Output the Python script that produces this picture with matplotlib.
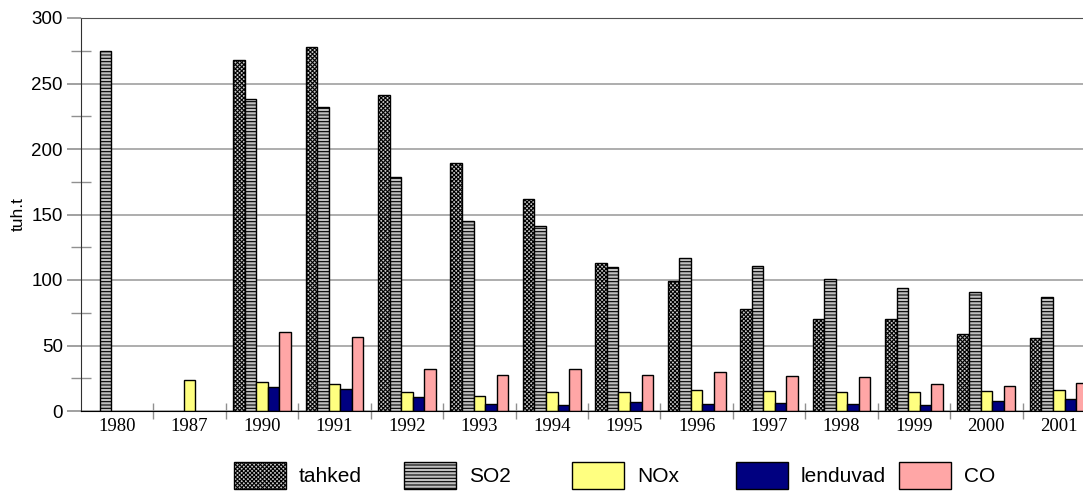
import numpy as np
import matplotlib
matplotlib.use("Agg")
import matplotlib.pyplot as plt
from matplotlib.ticker import FixedLocator, MultipleLocator

years = ["1980", "1987", "1990", "1991", "1992", "1993", "1994", "1995",
         "1996", "1997", "1998", "1999", "2000", "2001"]
nan = np.nan
tahked   = [nan, nan, 268, 278, 241, 189, 162, 113, 99, 78, 70, 70, 59, 56]
so2      = [275, nan, 238, 232, 179, 145, 141, 110, 117, 111, 101, 94, 91, 87]
nox      = [nan, 24, 22, 20.5, 14.7, 11.7, 14.5, 14.7, 16, 15.5, 14.7, 14.2, 15.3, 16]
lenduvad = [nan, nan, 18, 16.8, 10.9, 5.6, 4.6, 6.6, 5.6, 6.1, 5.6, 4.8, 7.6, 8.9]
co       = [nan, nan, 60, 56.7, 32.3, 27.7, 31.8, 27.2, 29.5, 26.5, 26.2, 20.6, 19.3, 21.4]
series_names = ["tahked", "SO2", "NOx", "lenduvad", "CO"]

plt.rcParams["font.family"] = ["Liberation Sans", "DejaVu Sans"]
plt.rcParams["hatch.linewidth"] = 0.8

W, H = 1083, 493
fig = plt.figure(figsize=(W / 100, H / 100), dpi=100)
ax = fig.add_axes([81 / W, (H - 411) / H, 1014 / W, 393 / H])

styles = [
    dict(facecolor="#c8c8c8", hatch="xxxxxxxx", edgecolor="black"),
    dict(facecolor="#c0c0c0", hatch="-----", edgecolor="black"),
    dict(facecolor="#ffff80", edgecolor="black"),
    dict(facecolor="#000080", edgecolor="black"),
    dict(facecolor="#ffa6a6", edgecolor="black"),
]
data = [tahked, so2, nox, lenduvad, co]
bw = 0.16
x = np.arange(len(years))
handles = []
for k, (vals, st) in enumerate(zip(data, styles)):
    v = np.array(vals, dtype=float)
    m = ~np.isnan(v)
    b = ax.bar(x[m] + (k - 2) * bw, v[m], width=bw, linewidth=1.0,
               label=series_names[k], zorder=3, **st)
    handles.append(b)

ax.set_xlim(-0.5, len(years) - 0.5)
ax.set_ylim(0, 300)
ax.yaxis.set_major_locator(MultipleLocator(50))
ax.yaxis.set_minor_locator(FixedLocator([25, 75, 125, 175, 225, 275]))
ax.grid(axis="y", which="major", color="#a0a0a0", linewidth=1.2, zorder=0)
ax.set_axisbelow(True)

ax.set_xticks(x)
ax.set_xticklabels(years, family=["Liberation Serif", "DejaVu Serif"], fontsize=13.5)
ax.set_xticks(np.arange(len(years) - 1) + 0.5, minor=True)
ax.tick_params(axis="x", which="major", length=0, pad=5)
ax.tick_params(axis="x", which="minor", direction="inout", length=12, color="#909090", width=1)
ax.tick_params(axis="y", which="major", direction="out", length=10, color="#909090",
               width=1.2, labelsize=13.5, pad=3)
ax.tick_params(axis="y", which="minor", direction="inout", length=15, color="#909090", width=1)

ax.spines["right"].set_visible(False)
ax.spines["top"].set_color("#505050")
ax.spines["left"].set_color("#303030")
ax.spines["bottom"].set_color("black")
ax.spines["bottom"].set_zorder(5)

ax.set_ylabel("tuh.t", fontsize=12.5, labelpad=4)

box_left = [234, 404, 572, 736, 899]
for h, name, xl in zip(handles, series_names, box_left):
    fig.legend(handles=[h], labels=[name], loc="center left",
               bbox_to_anchor=(xl / W, 1 - 475.5 / H), frameon=False,
               fontsize=15, handlelength=2.5, handleheight=1.68,
               handletextpad=0.62, borderpad=0, borderaxespad=0)

fig.savefig("out.png", dpi=100)
